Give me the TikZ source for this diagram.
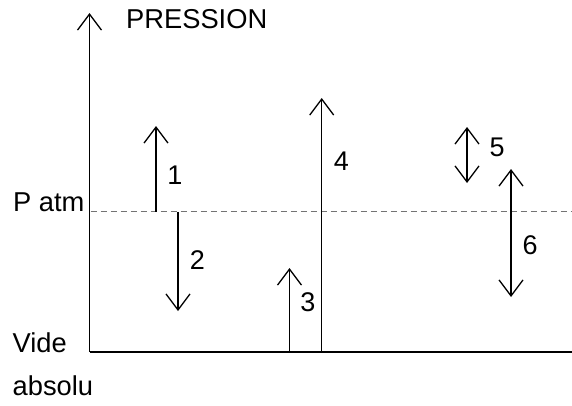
\documentclass[tikz,border=0pt]{standalone}
\usepackage{fontspec}
\setmainfont{Liberation Sans}
\usetikzlibrary{arrows.meta}
\begin{document}
\begin{tikzpicture}[x=1bp,y=-1bp,
  lbl/.style={inner sep=0pt,anchor=base,font=\fontsize{27bp}{30bp}\selectfont},
  lblw/.style={inner sep=0pt,anchor=base west,font=\fontsize{27.3bp}{30bp}\selectfont},
  barb/.tip={Straight Barb[length=16bp,width=24bp,line width=1.3bp]},
  arr/.style={line width=1.3bp,-barb},
  darr/.style={line width=1.3bp,barb-barb},
  axis/.style={line width=2.2bp},
  ref/.style={color=black!55,line width=1.2bp,dash pattern=on 6.5bp off 3.5bp}]
\useasboundingbox (0,0) rectangle (572,405);
% coordinates
\coordinate (O) at (89.5,352);
\coordinate (Ytop) at (89.5,13);
\coordinate (Xend) at (572,352);
\coordinate (Pa0) at (90.5,211.8);
\coordinate (Pa1) at (572,211.8);
\coordinate (a1s) at (156,211.8);  \coordinate (a1e) at (156,126);
\coordinate (a2s) at (178,211.8);  \coordinate (a2e) at (178,311);
\coordinate (a3s) at (289.5,352);\coordinate (a3e) at (289.5,268);
\coordinate (a4s) at (321.7,352);\coordinate (a4e) at (321.7,98);
\coordinate (a5s) at (467,127);  \coordinate (a5e) at (467,183);
\coordinate (a6s) at (511,169);  \coordinate (a6e) at (511,297);
% reference line
\draw[ref] (Pa0) -- (Pa1);
% axes
\draw[axis] (Xend) -- (O);
\draw[line width=1.7bp,-{Straight Barb[length=16bp,width=24bp,line width=1.3bp]}] (O) -- (Ytop);
% arrows
\draw[arr] (a1s) -- (a1e);
\draw[arr] (a2s) -- (a2e);
\draw[arr] (a3s) -- (a3e);
\draw[arr] (a4s) -- (a4e);
\draw[darr] (a5s) -- (a5e);
\draw[darr] (a6s) -- (a6e);
% texts
\node[lblw] (pression) at (126,28) {PRESSION};
\node[lblw] (patm) at (13,211.5) {P atm};
\node[lblw] (vide) at (12.5,352.5) {Vide};
\node[lblw] (absolu) at (12.5,395) {absolu};
\node[lbl] (n1) at (175,184) {1};
\node[lbl] (n2) at (197.5,269) {2};
\node[lbl] (n3) at (308,311) {3};
\node[lbl] (n4) at (341.5,170) {4};
\node[lbl] (n5) at (497,156) {5};
\node[lbl] (n6) at (530,254) {6};
\end{tikzpicture}
\end{document}
